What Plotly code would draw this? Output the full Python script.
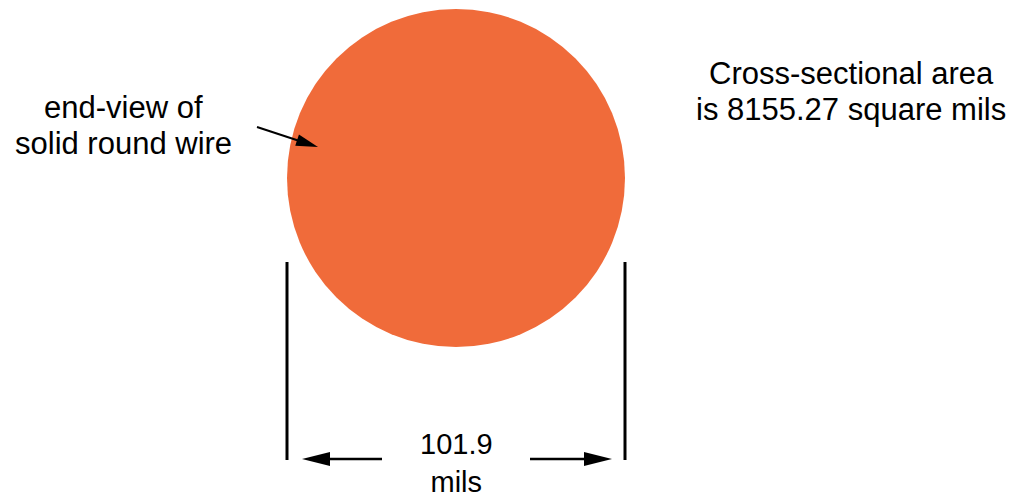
import math
import plotly.graph_objects as go

# ---- data ----
diameter_mils = [101.9]
area_sq_mils = [8155.27]
label_lines = ["end-view of", "solid round wire"]
area_lines = ["Cross-sectional area", "is 8155.27 square mils"]
dim_lines = ["101.9", "mils"]

W, H = 1016, 499
px_per_mil = 338 / diameter_mils[0]
cx, cy = 456, 178
r = diameter_mils[0] / 2 * px_per_mil

fig = go.Figure()
fig.add_trace(go.Scatter(x=[0, W], y=[0, H], mode="markers", marker=dict(opacity=0), hoverinfo="skip", showlegend=False))

shapes = []
shapes.append(dict(type="circle", xref="x", yref="y", x0=cx - r, x1=cx + r, y0=cy - r, y1=cy + r,
                   fillcolor="#F06B3A", line=dict(width=0), layer="below"))
# extension lines
for xv in (cx - r, cx + r):
    shapes.append(dict(type="line", x0=xv, x1=xv, y0=262, y1=460, line=dict(color="black", width=3)))

def arrow(x0, y0, x1, y1, head_len, head_half, lw):
    dx, dy = x1 - x0, y1 - y0
    L = math.hypot(dx, dy)
    ux, uy = dx / L, dy / L
    bx, by = x1 - ux * head_len, y1 - uy * head_len
    px, py = -uy, ux
    shapes.append(dict(type="line", x0=x0, y0=y0, x1=bx + ux * 1, y1=by + uy * 1, line=dict(color="black", width=lw)))
    path = f"M {x1},{y1} L {bx + px*head_half},{by + py*head_half} L {bx - px*head_half},{by - py*head_half} Z"
    shapes.append(dict(type="path", path=path, fillcolor="black", line=dict(width=0)))

ay = 459
arrow(382, ay, cx - r + 15, ay, 28, 7, 2.5)
arrow(530, ay, cx + r - 13, ay, 28, 7, 2.5)
arrow(257, 127, 318, 147, 22, 6, 2)

fam = "Liberation Sans, Arial, Helvetica, sans-serif"
font = dict(family=fam, size=31, color="black")
ann = []
for i, t in enumerate(label_lines):
    ann.append(dict(x=123, y=107 + 36 * i, text=t, yanchor="middle", font=font))
for i, t in enumerate(area_lines):
    ann.append(dict(x=851, y=73 + 36.5 * i, text=t, yanchor="middle", font=font))
ann.append(dict(x=cx, y=H, text="<br>".join(dim_lines), yanchor="bottom", borderpad=0,
                font=dict(family=fam, size=29, color="black")))
for a in ann:
    a.update(xref="x", yref="y", showarrow=False, xanchor="center")

fig.update_layout(
    width=W, height=H, margin=dict(l=0, r=0, t=0, b=0),
    paper_bgcolor="white", plot_bgcolor="white",
    xaxis=dict(range=[0, W], visible=False, fixedrange=True),
    yaxis=dict(range=[H, 0], visible=False, fixedrange=True),
    shapes=shapes, annotations=ann, showlegend=False,
)
fig.write_html("out.html", post_script="document.body.style.margin='0';document.body.style.overflow='hidden';",
               config={"displayModeBar": False})
